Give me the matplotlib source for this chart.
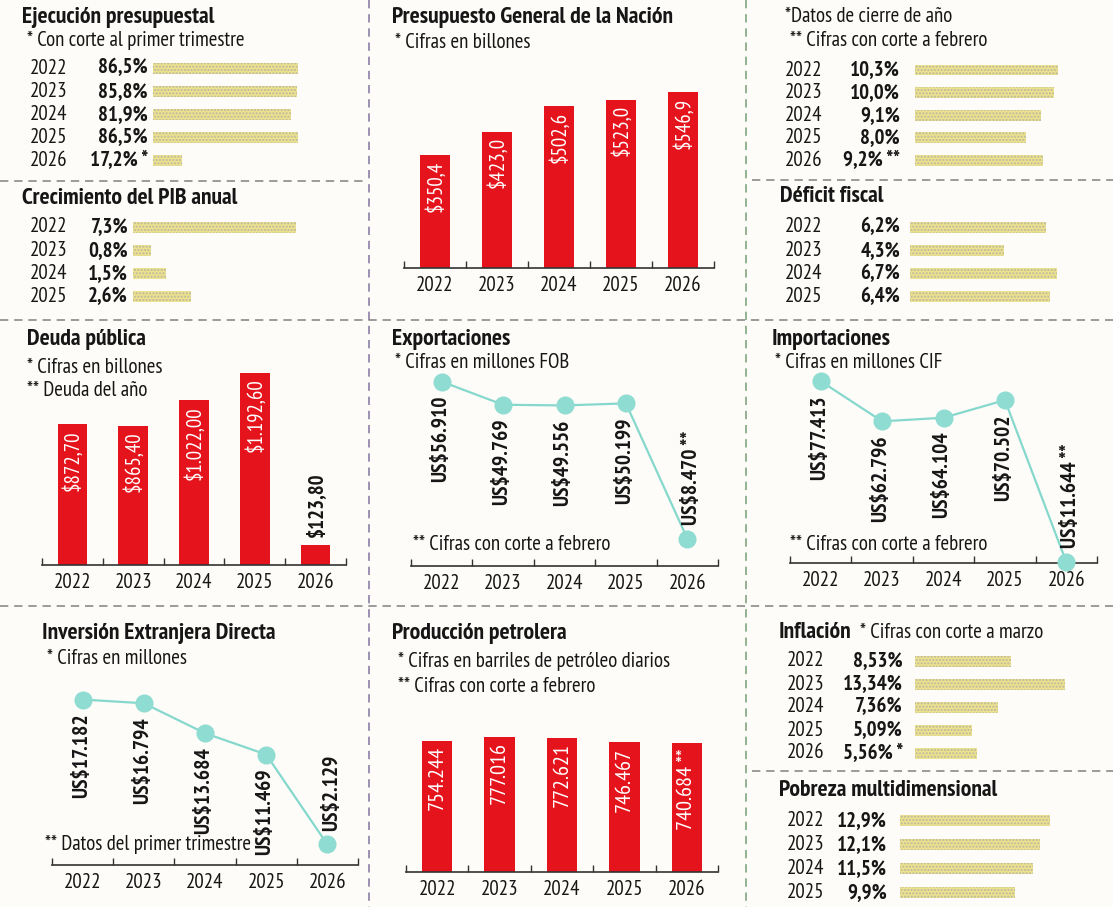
import matplotlib
matplotlib.use("Agg")
import matplotlib.pyplot as plt
from matplotlib.lines import Line2D
from matplotlib import transforms
import numpy as np

plt.rcParams['font.family'] = ['PT Sans Narrow', 'DejaVu Sans']

# ---- data ----
years5 = ['2022', '2023', '2024', '2025', '2026']
years4 = ['2022', '2023', '2024', '2025']

ejecucion = [86.5, 85.8, 81.9, 86.5, 17.2]
ejecucion_notes = ['', '', '', '', ' *']
pib = [7.3, 0.8, 1.5, 2.6]
desempleo = [10.3, 10.0, 9.1, 8.0, 9.2]
desempleo_notes = ['', '', '', '', ' **']
deficit = [6.2, 4.3, 6.7, 6.4]
inflacion = [8.53, 13.34, 7.36, 5.09, 5.56]
inflacion_notes = ['', '', '', '', ' *']
pobreza = [12.9, 12.1, 11.5, 9.9]

presupuesto = [350.4, 423.0, 502.6, 523.0, 546.9]
deuda = [872.70, 865.40, 1022.00, 1192.60, 123.80]
exportaciones = [56910, 49769, 49556, 50199, 8470]
importaciones = [77413, 62796, 64104, 70502, 11644]
ied = [17182, 16794, 13684, 11469, 2129]
petroleo = [754244, 777016, 772621, 746467, 740684]

W, H = 1113, 907
RED = '#e5141c'
TEAL = '#86d8cd'
YELLOW = '#ece28e'
INK = '#161616'

fig = plt.figure(figsize=(W / 100, H / 100), dpi=100)
fig.patch.set_facecolor('#fdfcf8')


def fx(px):
    return px / W


def fy(py):
    return 1 - py / H


def es(v, dec):
    s = f"{v:,.{dec}f}"
    return s.replace(',', '#').replace('.', ',').replace('#', '.')


def txt(px, py, s, size=14, bold=False, **kw):
    fig.text(fx(px), fy(py), s, fontsize=size, color=INK,
             fontweight='bold' if bold else 'normal', va='center', **kw)


def hline(y, x0, x1, color='#8a8a8a'):
    fig.add_artist(Line2D([fx(x0), fx(x1)], [fy(y), fy(y)], transform=fig.transFigure,
                          color=color, lw=1.2, ls=(0, (5, 3.5))))


def vline(x, y0, y1, color):
    fig.add_artist(Line2D([fx(x), fx(x)], [fy(y0), fy(y1)], transform=fig.transFigure,
                          color=color, lw=1.2, ls=(0, (5, 3.5))))


def hlist(years, vals, texts, y0, step, year_x, val_right, bar_x0, px_unit, span=175):
    n = len(vals)
    top = y0 - step / 2
    ax = fig.add_axes([fx(bar_x0), fy(top + n * step), span / W, n * step / H])
    ax.barh(range(n), vals, height=11 / step, color=YELLOW, hatch='.....',
            edgecolor='#bdb7a0', linewidth=0)
    ax.set_xlim(0, span / px_unit)
    ax.set_ylim(n - 0.5, -0.5)
    ax.axis('off')
    tr = transforms.blended_transform_factory(fig.transFigure, ax.transData)
    for i in range(n):
        ax.text(fx(year_x), i, years[i], transform=tr, ha='left', va='center',
                fontsize=15, color=INK)
        ax.text(fx(val_right), i, texts[i], transform=tr, ha='right', va='center',
                fontsize=15, fontweight='bold', color=INK)
    return ax


def base_axes(x0, x1, top, base):
    ax = fig.add_axes([fx(x0), fy(base), (x1 - x0) / W, (base - top) / H])
    ax.patch.set_alpha(0)
    for s in ['top', 'right', 'left']:
        ax.spines[s].set_visible(False)
    ax.spines['bottom'].set_color('#333333')
    ax.spines['bottom'].set_linewidth(1.2)
    ax.set_yticks([])
    ax.set_xlim(-0.5, 4.5)
    ax.set_xticks(range(5))
    ax.set_xticklabels(years5, fontsize=15, color=INK)
    ax.tick_params(axis='x', which='major', length=0, pad=6)
    ax.set_xticks(np.arange(6) - 0.5, minor=True)
    ax.tick_params(axis='x', which='minor', direction='in', length=5, width=1, color='#333333')
    return ax


def vbars(vals, labels, x0, x1, top, base, px_unit, outside=(), size=15):
    ax = base_axes(x0, x1, top, base)
    ax.bar(range(len(vals)), vals, width=0.49, color=RED)
    ax.set_ylim(0, (base - top) / px_unit)
    for i, (v, lab) in enumerate(zip(vals, labels)):
        if i in outside:
            ax.annotate(lab, (i, v), xytext=(0, 6), textcoords='offset points', rotation=90,
                        ha='center', va='bottom', fontsize=15, fontweight='bold', color=INK)
        else:
            ax.annotate(lab, (i, v), xytext=(0, -4), textcoords='offset points', rotation=90,
                        ha='center', va='top', fontsize=size, color='white')
    return ax


def vline_chart(vals, labels, x0, x1, top, base, px_unit, ymin=0, gap=10):
    ax = base_axes(x0, x1, top, base)
    ax.plot(range(len(vals)), vals, color=TEAL, lw=1.6, marker='o', ms=12,
            mfc='#8fdcd2', mec='#8fdcd2', clip_on=False, zorder=3)
    ax.set_ylim(ymin, ymin + (base - top) / px_unit)
    n = len(vals)
    for i, (v, lab) in enumerate(zip(vals, labels)):
        if i == n - 1:
            ax.annotate(lab, (i, v), xytext=(3, gap), textcoords='offset points', rotation=90,
                        ha='center', va='bottom', fontsize=15.5, fontweight='bold', color=INK)
        else:
            ax.annotate(lab, (i, v), xytext=(-1, -gap), textcoords='offset points', rotation=90,
                        ha='center', va='top', fontsize=15.5, fontweight='bold', color=INK)
    return ax


# ---- dividers ----
vline(369, 0, 907, '#8c7fa6')
vline(746, 0, 907, '#7fa67f')
hline(181, 0, 366)
hline(320, 0, 1113)
hline(606, 0, 1113)
hline(180, 752, 1113)
hline(771, 752, 1113)

# ---- Ejecución presupuestal ----
txt(22, 17, 'Ejecución presupuestal', size=17, bold=True)
txt(27, 40, '* Con corte al primer trimestre', size=15)
hlist(years5, ejecucion, [es(v, 1) + '%' + n for v, n in zip(ejecucion, ejecucion_notes)],
      68, 23.2, 30, 148, 153, 1.68)

# ---- Crecimiento PIB ----
txt(22, 199, 'Crecimiento del PIB anual', size=17, bold=True)
hlist(years4, pib, [es(v, 1) + '%' for v in pib], 227, 23.3, 30, 128, 133, 22.3)

# ---- Desempleo ----
txt(785, 17, '*Datos de cierre de año', size=15)
txt(790, 40, '** Cifras con corte a febrero', size=15)
hlist(years5, desempleo, [es(v, 1) + '%' + n for v, n in zip(desempleo, desempleo_notes)],
      70, 22.6, 785, 900, 915, 13.9)

# ---- Déficit fiscal ----
txt(780, 196, 'Déficit fiscal', size=17, bold=True)
hlist(years4, deficit, [es(v, 1) + '%' for v in deficit], 227, 23.3, 785, 900, 910, 21.9)

# ---- Presupuesto General de la Nación ----
txt(392, 18, 'Presupuesto General de la Nación', size=17, bold=True)
txt(395, 43, '* Cifras en billones', size=15)
vbars(presupuesto, ['$' + es(v, 1) for v in presupuesto], 404, 714, 60, 268, 0.322)

# ---- Deuda pública ----
txt(27, 339, 'Deuda pública', size=17, bold=True)
txt(27, 368, '* Cifras en billones', size=15)
txt(27, 390, '** Deuda del año', size=15)
vbars(deuda, ['$' + es(v, 2) for v in deuda], 42, 346, 360, 565, 0.161, outside=(4,))

# ---- Exportaciones ----
txt(392, 339, 'Exportaciones', size=17, bold=True)
txt(395, 362, '* Cifras en millones FOB', size=15)
vline_chart(exportaciones, ['US$' + es(v, 0) for v in exportaciones[:-1]]
            + ['US$' + es(exportaciones[-1], 0) + ' **'],
            411, 718, 370, 566, 0.00324)
txt(413, 545, '** Cifras con corte a febrero', size=15)

# ---- Importaciones ----
txt(772, 339, 'Importaciones', size=17, bold=True)
txt(775, 362, '* Cifras en millones CIF', size=15)
vline_chart(importaciones, ['US$' + es(v, 0) for v in importaciones[:-1]]
            + ['US$' + es(importaciones[-1], 0) + ' **'],
            790, 1097, 370, 563, 0.00275, ymin=11280)
txt(790, 545, '** Cifras con corte a febrero', size=15)

# ---- Inversión Extranjera Directa ----
txt(42, 634, 'Inversión Extranjera Directa', size=17, bold=True)
txt(47, 658, '* Cifras en millones', size=15)
vline_chart(ied, ['US$' + es(v, 0) for v in ied], 52, 358, 680, 865, 0.00963)
txt(45, 844, '** Datos del primer trimestre', size=15)

# ---- Producción petrolera ----
txt(392, 634, 'Producción petrolera', size=17, bold=True)
txt(398, 661, '* Cifras en barriles de petróleo diarios', size=15)
txt(398, 686, '** Cifras con corte a febrero', size=15)
vbars(petroleo, [es(v, 0) for v in petroleo[:-1]] + [es(petroleo[-1], 0) + ' **'],
      406, 718, 720, 872, 0.000174, size=16)

# ---- Inflación ----
txt(779, 633, 'Inflación', size=17, bold=True)
txt(860, 633, '* Cifras con corte a marzo', size=15)
hlist(years5, inflacion, [es(v, 2) + '%' + n for v, n in zip(inflacion, inflacion_notes)],
      661, 23.0, 787, 903, 915, 11.24)

# ---- Pobreza multidimensional ----
txt(779, 791, 'Pobreza multidimensional', size=17, bold=True)
hlist(years4, pobreza, [es(v, 1) + '%' for v in pobreza], 821, 23.7, 787, 887, 900, 11.6)

fig.savefig('out.png', dpi=100, facecolor=fig.get_facecolor())
